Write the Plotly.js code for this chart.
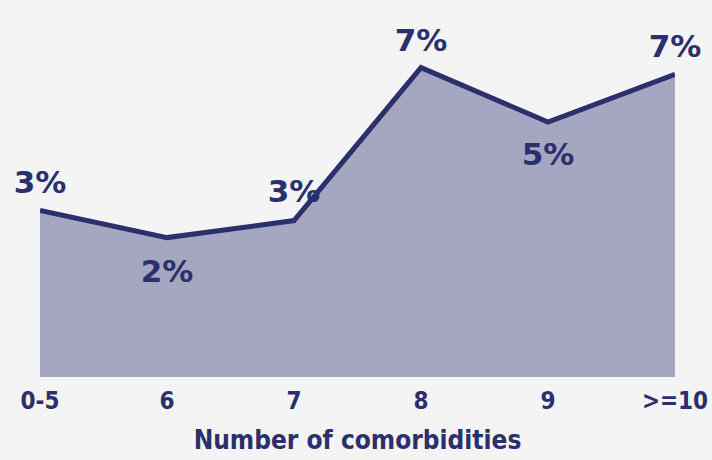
<!DOCTYPE html>
<html><head><meta charset="utf-8">
<script src="https://cdn.plot.ly/plotly-3.0.1.min.js"></script>
<style>html,body{margin:0;padding:0;background:#f4f4f4;}#c{width:712px;height:460px;}</style>
</head><body><div id="c"></div>
<script>
const categories = ["0-5","6","7","8","9",">=10"];
const values = [2.9, 2.1, 2.6, 7.1, 5.5, 6.9];
const labels = ["3%","2%","3%","7%","5%","7%"];
const labelPos = ["top center","bottom center","top center","top center","bottom center","top center"];
const axisMin = -2;
const axisMax = 8.5;
const xIdx = categories.map((c,i)=>i);

const navy = "#2b2f6b";
const condensed = "DejaVu Sans Condensed, DejaVu Sans, sans-serif";
const wide = "DejaVu Sans, sans-serif";

const base = {
  x: xIdx, y: categories.map(()=>axisMin), type:"scatter", mode:"lines",
  line:{width:0, color:"rgba(0,0,0,0)"}, hoverinfo:"skip", showlegend:false
};
const main = {
  x: xIdx, y: values, type:"scatter", mode:"lines+markers+text",
  text: labels, textposition: labelPos,
  textfont:{family:wide, size:31, color:navy, weight:"bold"},
  marker:{size:[14,32,16,12,30,14], opacity:0, color:navy},
  fill:"tonexty", fillcolor:"#a4a7bf",
  line:{color:navy, width:5}, cliponaxis:false, showlegend:false
};
const layout = {
  width:712, height:460,
  paper_bgcolor:"#f4f4f4", plot_bgcolor:"#f4f4f4",
  margin:{l:40, r:37, t:20, b:83},
  xaxis:{range:[0,5], tickmode:"array", tickvals:xIdx, ticktext:categories,
    showgrid:false, zeroline:false, showline:false, ticks:"", ticklabelstandoff:7,
    tickfont:{family:condensed, size:24, color:navy, weight:"bold"},
    title:{text:"Number of comorbidities", font:{family:condensed, size:26, color:navy, weight:"bold"}, standoff:16}},
  yaxis:{range:[axisMin,axisMax], visible:false, showgrid:false, zeroline:false}
};
Plotly.newPlot("c",[base,main],layout,{displayModeBar:false, staticPlot:true});
</script></body></html>
